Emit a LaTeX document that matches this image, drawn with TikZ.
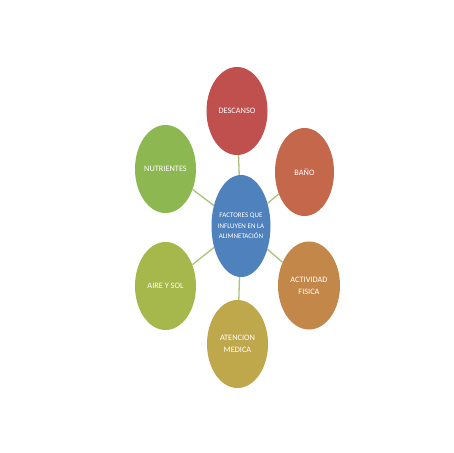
\documentclass[tikz,border=0pt]{standalone}
\usepackage{fontspec}
\setmainfont{Carlito}
\usetikzlibrary{shapes.geometric}
\definecolor{cblue}{HTML}{4F81BD}
\definecolor{cred}{HTML}{C0504D}
\definecolor{corange}{HTML}{C4674A}
\definecolor{cgreen}{HTML}{8DB750}
\definecolor{cyellowgreen}{HTML}{A6B74B}
\definecolor{camber}{HTML}{C4874A}
\definecolor{cgold}{HTML}{BFA74C}
\definecolor{cline}{HTML}{A9C47C}
\tikzset{
  txt/.style={text=white, font=\fontsize{8.3}{12}\selectfont, align=center, inner sep=0pt},
  hubtxt/.style={txt, font=\fontsize{7}{10.5}\selectfont},
  bubble/.style={ellipse, minimum width=61pt, minimum height=88pt, inner sep=0pt},
  hub/.style={bubble, minimum width=59pt, minimum height=102pt},
  link/.style={draw=cline, line width=1.3pt}
}
\begin{document}
\begin{tikzpicture}[x=1pt,y=-1pt]
\useasboundingbox[fill=white] (0,0) rectangle (453,453);
\node[hub, fill=cblue, label={[hubtxt]center:FACTORES QUE\\INFLUYEN EN LA\\ALIMNETACIÓN}] (c) at (241,226) {};
\node[bubble, fill=cred, label={[txt]center:DESCANSO}] (d) at (237,111) {};
\node[bubble, fill=corange, minimum width=59pt, label={[txt]center:BAÑO}] (b) at (304.5,172) {};
\node[bubble, fill=camber, minimum width=62pt, label={[txt]center:ACTIVIDAD\\FISICA}] (a) at (309,285.5) {};
\node[bubble, fill=cgold, label={[txt]center:ATENCION\\MEDICA}] (m) at (237.5,344) {};
\node[bubble, fill=cyellowgreen, label={[txt]center:AIRE Y SOL}] (s) at (165.5,286) {};
\node[bubble, fill=cgreen, label={[txt]center:NUTRIENTES}] (n) at (165.5,169) {};
\draw[link] (c) -- (d);
\draw[link] (c) -- (b);
\draw[link] (c) -- (a);
\draw[link] (c) -- (m);
\draw[link] (c) -- (s);
\draw[link] (c) -- (n);
\end{tikzpicture}
\end{document}
